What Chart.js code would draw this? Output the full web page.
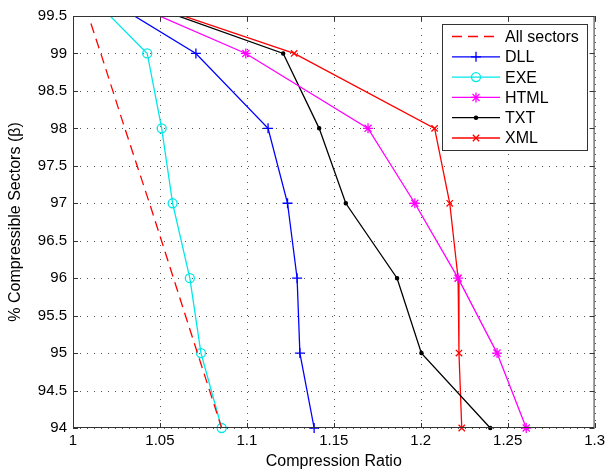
<!DOCTYPE html>
<html>
<head>
<meta charset="utf-8">
<script src="https://cdn.jsdelivr.net/npm/chart.js@4/dist/chart.umd.min.js"></script>
<style>
  html, body { margin: 0; padding: 0; background: #fff; }
  #wrap { width: 609px; height: 473px; }
</style>
</head>
<body>
<div id="wrap"><canvas id="chart"></canvas></div>
<script>
// ---- data ----
const sectorLevels = [100, 99, 98, 97, 96, 95, 94];
const allLevels = [99.4, 99, 98, 97, 96, 95, 94];
const allSectors = [1.0103, 1.0160, 1.0298, 1.0440, 1.0578, 1.0716, 1.0855];
const dllRatio  = [1.0, 1.0707, 1.1122, 1.1234, 1.1289, 1.1305, 1.1387];
const exeRatio  = [1.0, 1.0427, 1.0510, 1.0573, 1.0672, 1.0736, 1.0855];
const htmlRatio = [1.0, 1.0994, 1.1697, 1.1966, 1.2215, 1.2439, 1.2607];
const txtRatio  = [1.0, 1.1209, 1.1416, 1.1569, 1.1864, 1.2004, 1.2400];
const xmlRatio  = [1.0, 1.1272, 1.2080, 1.2167, 1.2215, 1.2220, 1.2236];
const seriesNames = ["All sectors", "DLL", "EXE", "HTML", "TXT", "XML"];

const xTicks = [1, 1.05, 1.1, 1.15, 1.2, 1.25, 1.3];
const yTicks = [94, 94.5, 95, 95.5, 96, 96.5, 97, 97.5, 98, 98.5, 99, 99.5];

const FONT = "Liberation Sans, Arial, Helvetica, sans-serif";

function toPoints(xs, ys) {
    return xs.map((x, i) => ({ x: x, y: ys[i] }));
}

const clipBox = { left: 10, right: 10, top: 0, bottom: 10 };

const styles = [
    { color: "#ff0000", dash: [10, 6], marker: false, radius: 0 },
    { color: "#0000ff", dash: [], marker: "cross", radius: 5 },
    { color: "#00e8e8", dash: [], marker: "circle", radius: 4.5 },
    { color: "#ff00ff", dash: [], marker: "star", radius: 5 },
    { color: "#000000", dash: [], marker: "circle", radius: 1.6, fill: true },
    { color: "#ff0000", dash: [], marker: "crossRot", radius: 4.5 }
];

const seriesData = [
    toPoints(allSectors, allLevels),
    toPoints(dllRatio, sectorLevels),
    toPoints(exeRatio, sectorLevels),
    toPoints(htmlRatio, sectorLevels),
    toPoints(txtRatio, sectorLevels),
    toPoints(xmlRatio, sectorLevels)
];

const datasets = seriesNames.map((name, i) => {
    const s = styles[i];
    return {
        label: name,
        data: seriesData[i],
        borderColor: s.color,
        backgroundColor: s.fill ? s.color : "rgba(0,0,0,0)",
        borderWidth: 1.3,
        borderDash: s.dash,
        pointStyle: s.marker,
        pointRadius: s.radius,
        pointBorderWidth: 1.3,
        pointBorderColor: s.color,
        pointBackgroundColor: s.fill ? s.color : "rgba(0,0,0,0)",
        tension: 0,
        fill: false,
        clip: clipBox
    };
});

// dotted grid under the data
const gridPlugin = {
    id: "dotGrid",
    beforeDatasetsDraw(chart) {
        const { ctx, chartArea: a, scales } = chart;
        ctx.save();
        ctx.strokeStyle = "#555";
        ctx.lineWidth = 1;
        ctx.setLineDash([1, 6]);
        ctx.beginPath();
        xTicks.forEach(v => {
            const px = Math.round(scales.x.getPixelForValue(v)) + 0.5;
            ctx.moveTo(px, a.bottom);
            ctx.lineTo(px, a.top);
        });
        yTicks.forEach(v => {
            const py = Math.round(scales.y.getPixelForValue(v)) + 0.5;
            ctx.moveTo(a.left, py);
            ctx.lineTo(a.right, py);
        });
        ctx.stroke();
        ctx.restore();
    }
};

// box + inward ticks like the original plot
const framePlugin = {
    id: "frame",
    afterDatasetsDraw(chart) {
        const { ctx, chartArea: a, scales } = chart;
        ctx.save();
        ctx.strokeStyle = "#333";
        ctx.lineWidth = 1;
        ctx.setLineDash([]);
        ctx.strokeRect(a.left + 0.5, a.top + 0.5, a.right - a.left - 1, a.bottom - a.top - 1);
        ctx.beginPath();
        xTicks.forEach(v => {
            const px = Math.round(scales.x.getPixelForValue(v)) + 0.5;
            ctx.moveTo(px, a.bottom); ctx.lineTo(px, a.bottom - 5);
            ctx.moveTo(px, a.top); ctx.lineTo(px, a.top + 5);
        });
        yTicks.forEach(v => {
            const py = Math.round(scales.y.getPixelForValue(v)) + 0.5;
            ctx.moveTo(a.left, py); ctx.lineTo(a.left + 5, py);
            ctx.moveTo(a.right, py); ctx.lineTo(a.right - 5, py);
        });
        ctx.stroke();
        ctx.restore();
    }
};

// legend box in the top-right corner
const legendPlugin = {
    id: "boxLegend",
    afterDraw(chart) {
        const ctx = chart.ctx;
        const bx = 442, by = 24, bw = 145, bh = 126;
        const rowH = 20.3;
        ctx.save();
        ctx.fillStyle = "#fff";
        ctx.fillRect(bx, by, bw, bh);
        ctx.strokeStyle = "#333";
        ctx.lineWidth = 1;
        ctx.strokeRect(bx + 0.5, by + 0.5, bw, bh);
        ctx.font = "16px " + FONT;
        ctx.textBaseline = "middle";
        seriesNames.forEach((name, i) => {
            const s = styles[i];
            const y = by + 12.5 + i * rowH;
            ctx.strokeStyle = s.color;
            ctx.lineWidth = 1.3;
            ctx.setLineDash(s.dash);
            ctx.beginPath();
            ctx.moveTo(452, y);
            ctx.lineTo(500, y);
            ctx.stroke();
            ctx.setLineDash([]);
            if (s.marker) {
                ctx.fillStyle = s.fill ? s.color : "rgba(0,0,0,0)";
                Chart.helpers.drawPoint(ctx, {
                    pointStyle: s.marker,
                    radius: s.radius,
                    borderWidth: 1.3,
                    rotation: 0
                }, 476, y);
            }
            ctx.fillStyle = "#000";
            ctx.fillText(name, 505, y + 1);
        });
        ctx.restore();
    }
};

new Chart(document.getElementById("chart"), {
    type: "line",
    data: { datasets: datasets },
    options: {
        responsive: true,
        maintainAspectRatio: false,
        animation: false,
        layout: { padding: { left: 0, top: 16, right: 14, bottom: 0 } },
        plugins: { legend: { display: false }, tooltip: { enabled: false } },
        scales: {
            x: {
                type: "linear",
                min: 1, max: 1.3,
                afterBuildTicks: scale => { scale.ticks = xTicks.map(v => ({ value: v })); },
                afterFit: scale => { scale.height = 45; },
                grid: { display: false, drawTicks: false },
                border: { display: false },
                ticks: {
                    color: "#000",
                    padding: 4,
                    maxRotation: 0,
                    font: { family: FONT, size: 15 },
                    callback: v => String(+Number(v).toFixed(2))
                },
                title: {
                    display: true,
                    text: "Compression Ratio",
                    color: "#000",
                    font: { family: FONT, size: 16 },
                    padding: { top: 0, bottom: 2 }
                }
            },
            y: {
                type: "linear",
                min: 94, max: 99.5,
                afterBuildTicks: scale => { scale.ticks = yTicks.map(v => ({ value: v })); },
                afterFit: scale => { scale.width = 73; },
                grid: { display: false, drawTicks: false },
                border: { display: false },
                ticks: {
                    color: "#000",
                    padding: 6,
                    font: { family: FONT, size: 15 },
                    callback: v => String(+Number(v).toFixed(2))
                },
                title: {
                    display: true,
                    text: "% Compressible Sectors (β)",
                    color: "#000",
                    font: { family: FONT, size: 16 },
                    padding: { top: 6, bottom: 0 }
                }
            }
        }
    },
    plugins: [gridPlugin, framePlugin, legendPlugin]
});
</script>
</body>
</html>
